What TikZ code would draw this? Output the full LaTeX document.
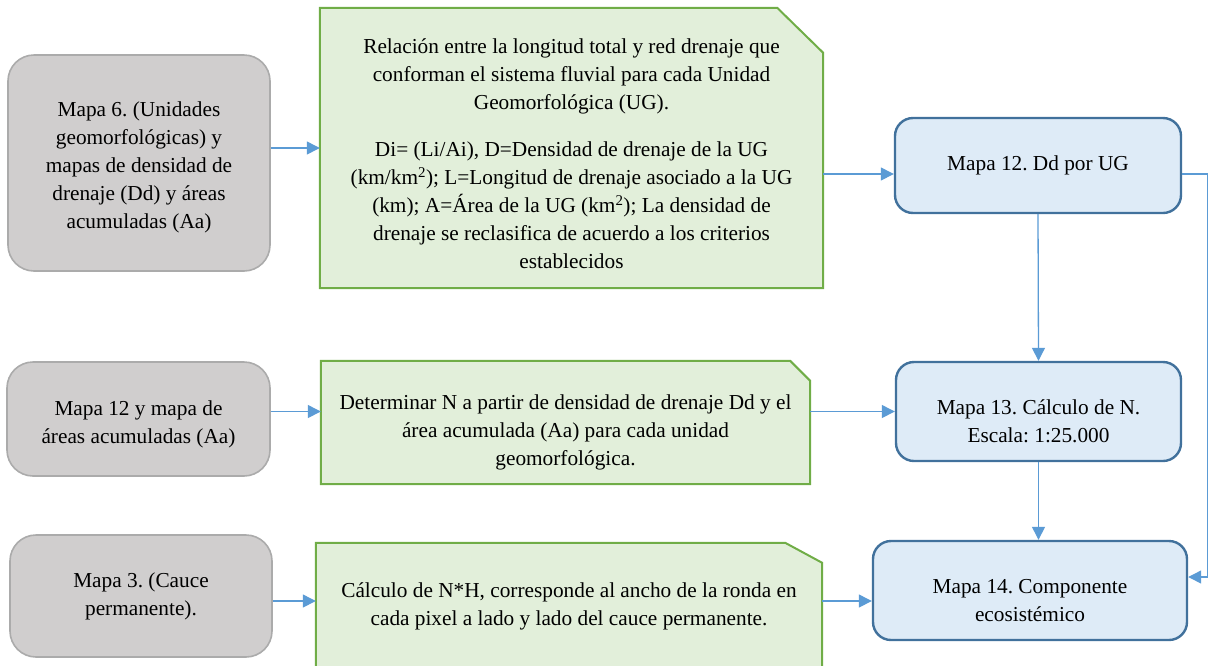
\documentclass[tikz,border=0pt]{standalone}
\usepackage{fontspec}
\setmainfont{Liberation Serif}
\frenchspacing
\usepackage{tikz}
\usetikzlibrary{arrows.meta,backgrounds}

\definecolor{mapgray}{HTML}{D0CECE}
\definecolor{mapgrayline}{HTML}{ABABAB}
\definecolor{procgreen}{HTML}{E2EFDA}
\definecolor{procgreenline}{HTML}{70AD47}
\definecolor{resblue}{HTML}{DEEBF7}
\definecolor{resblueline}{HTML}{41719C}
\definecolor{flowblue}{HTML}{5B9BD5}

\tikzset{
	mapbox/.style={draw=mapgrayline, line width=1.6pt, fill=mapgray, rounded corners=26pt, align=center, inner sep=0pt},
	procbox/.style={align=center, inner sep=0pt},
	procline/.style={draw=procgreenline, line width=2pt, fill=procgreen},
	resbox/.style={draw=resblueline, line width=2.4pt, fill=resblue, rounded corners=18pt, align=center, inner sep=0pt},
	flow/.style={draw=flowblue, line width=1.3pt, -{Triangle[length=13pt, width=13pt]}}
}

\begin{document}
\begin{tikzpicture}[x=1pt, y=-1pt, font=\fontsize{21.3}{28}\selectfont]
			\path[use as bounding box] (0,0) rectangle (1209,665);
			\clip (0,0) rectangle (1209,665);

			\node [mapbox, minimum width=262pt, minimum height=216pt] (map6) at (139, 163)
			{\rule{0pt}{23pt}Mapa 6. (Unidades\\ geomorfológicas) y\\ mapas de densidad de\\ drenaje (Dd) y áreas\\ acumuladas (Aa)};

			\node [mapbox, minimum width=263pt, minimum height=114pt] (map12aa) at (138.5, 419)
			{\rule{0pt}{25pt}Mapa 12 y mapa de\\ áreas acumuladas (Aa)};

			\node [mapbox, minimum width=262pt, minimum height=122pt] (map3) at (141, 596)
			{Mapa 3. (Cauce\\ permanente).};

			\node [procbox, minimum width=503pt, minimum height=280pt] (rel) at (571.5, 148)
			{\rule{0pt}{27pt}Relación entre la longitud total y red drenaje que\\ conforman el sistema fluvial para cada Unidad\\
			Geomorfológica (UG).\\[19pt] Di= (Li/Ai), D=Densidad de drenaje de la UG\\
			(km/km\textsuperscript{2}); L=Longitud de drenaje asociado a la UG\\
			(km); A=Área de la UG (km\textsuperscript{2}); La densidad de\\
			drenaje se reclasifica de acuerdo a los criterios\\ establecidos};

			\node [procbox, minimum width=489pt, minimum height=123pt] (detN) at (565.5, 422.5)
			{\rule{0pt}{35pt}Determinar N a partir de densidad de drenaje Dd y el\\ área acumulada (Aa) para cada unidad\\ geomorfológica.};

			\node [procbox, minimum width=506pt, minimum height=127pt] (calcNH) at (569, 606.5)
			{Cálculo de N*H, corresponde al ancho de la ronda en\\ cada pixel a lado y lado del cauce permanente.};

			\begin{scope}[on background layer]
				\draw [procline] (rel.south west) |- ([xshift=-46pt]rel.north east) -- ([yshift=-45pt]rel.north east)
				-- (rel.south east) -- cycle;
				\draw [procline] (detN.south west) |- ([xshift=-20pt]detN.north east) -- ([yshift=-20pt]detN.north east)
				-- (detN.south east) -- cycle;
				\draw [procline] (calcNH.south west) |- ([xshift=-37pt]calcNH.north east) -- ([yshift=-20pt]calcNH.north east)
				-- (calcNH.south east) -- cycle;
			\end{scope}

			\node [resbox, minimum width=286pt, minimum height=95pt] (m12) at (1038, 165.5)
			{Mapa 12. Dd por UG};

			\node [resbox, minimum width=285pt, minimum height=99pt] (m13) at (1038.5, 411.5)
			{\rule{0pt}{35pt}Mapa 13. Cálculo de N.\\ Escala: 1:25.000};

			\node [resbox, minimum width=314pt, minimum height=99pt] (m14) at (1030, 590.5)
			{\rule{0pt}{35pt}Mapa 14. Componente\\ ecosistémico};

			\coordinate (in12) at ([yshift=-8.5pt]m12.west);
			\coordinate (out12) at ([yshift=-8.5pt]m12.east);
			\coordinate (in14) at ([yshift=13.5pt]m14.east);
			\coordinate (r3) at ([yshift=-5pt]map3.east);

			\draw [flow] (map6.east |- rel.west) -- (rel.west);

			\draw [flow] (rel.east |- in12) -- (in12);

			\draw [flow] (m12.south) -- (m13.north);

			\draw [flow] (out12) -- ++(25,0) |- (in14);

			\draw [flow] (map12aa.east |- m13.west) -- (detN.west |- m13.west);

			\draw [flow] (detN.east |- m13.west) -- (m13.west);

			\draw [flow] (m13.south) -- (m13.south |- m14.north);

			\draw [flow] (r3) -- (r3 -| calcNH.west);

			\draw [flow] (r3 -| calcNH.east) -- (r3 -| m14.west);
\end{tikzpicture}
\end{document}
